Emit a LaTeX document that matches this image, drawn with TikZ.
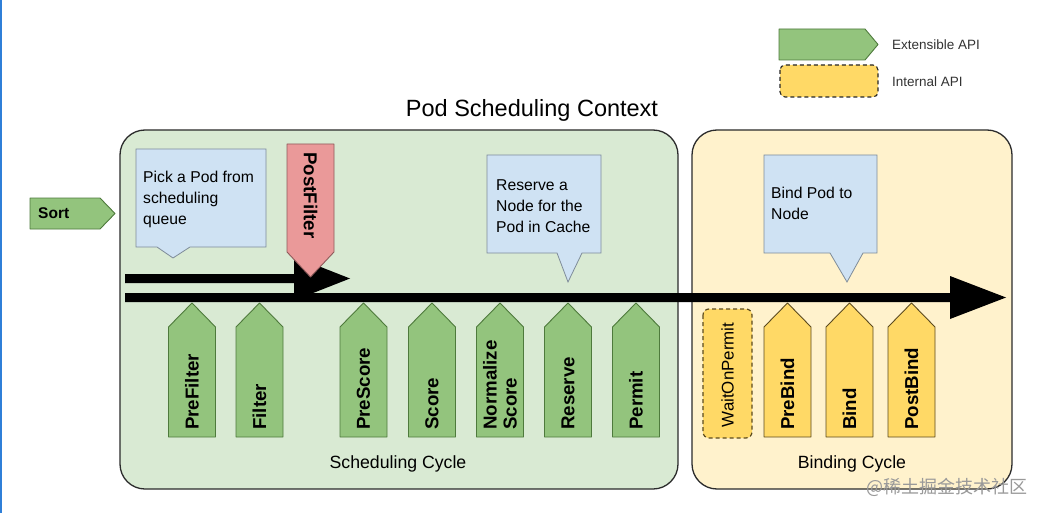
\documentclass[tikz,border=0pt]{standalone}
\usepackage{fontspec}
\setmainfont{Liberation Sans}
\newfontfamily\cjkwm{Noto Sans CJK SC}
\definecolor{cgreenbg}{HTML}{D9EAD3}
\definecolor{cyellowbg}{HTML}{FFF2CC}
\definecolor{cplugG}{HTML}{93C47D}
\definecolor{cplugGline}{HTML}{4E7A3C}
\definecolor{cplugY}{HTML}{FFD966}
\definecolor{cplugYline}{HTML}{5C4B1E}
\definecolor{ccall}{HTML}{CFE2F3}
\definecolor{ccallline}{HTML}{7F8C99}
\definecolor{cpink}{HTML}{EA9999}
\definecolor{cpinkline}{HTML}{8E5B5B}
\definecolor{cboxline}{HTML}{2B2B2B}
\definecolor{cedge}{HTML}{2F7FD8}
\newcommand\mkplug[4]{% name, center x, style, text
  \path[#3] ({#2-23.5},437) -- ({#2-23.5},327) -- (#2,303) -- ({#2+23.5},327) -- ({#2+23.5},437) -- cycle;
  \node[ptext] (#1) at (#2,430) {#4};}
\newcommand\mkcallout[9]{% name, x1,y1,x2,y2, pl, pr, tipx, tipy
  \path[callout] (#2,#3) -- (#4,#3) -- (#4,#5) -- (#7,#5) -- (#8,#9) -- (#6,#5) -- (#2,#5) -- cycle;}
\begin{document}
\begin{tikzpicture}[x=1pt,y=-1pt,
  bigbox/.style={draw=cboxline,line width=1.3pt,rounded corners=25pt},
  plugG/.style={fill=cplugG,draw=cplugGline,line width=0.9pt,line join=round},
  plugY/.style={fill=cplugY,draw=cplugYline,line width=0.9pt,line join=round},
  ptext/.style={font=\fontsize{18.7}{20}\selectfont\bfseries,rotate=90,anchor=west,inner sep=0pt,align=left},
  callout/.style={fill=ccall,draw=ccallline,line width=0.8pt,line join=miter},
  ctext/.style={font=\fontsize{15.7}{20.8}\selectfont,anchor=north west,inner sep=0pt,align=left},
  lbl/.style={font=\fontsize{17.7}{20}\selectfont,anchor=base,inner sep=0pt},
  legtext/.style={font=\fontsize{13.5}{16}\selectfont,anchor=west,inner sep=0pt,text=black!80},
  timeline/.style={fill=black}]
\useasboundingbox (0,0) rectangle (1043,513);
\fill[white] (0,0) rectangle (1043,513);
\fill[cedge] (0,0) rectangle (2,513);

% context boxes
\draw[bigbox,fill=cgreenbg] (120,130) rectangle (678,489);
\draw[bigbox,fill=cyellowbg] (692,130) rectangle (1012,489);
\node[font=\fontsize{23.5}{26}\selectfont,anchor=base,inner sep=0pt] (title) at (532,116.5) {Pod Scheduling Context};

% callouts
\mkcallout{c1}{136}{149}{266}{247}{157}{190}{173}{258}
\node[ctext] (c1t) at (143,171) {Pick a Pod from\\scheduling\\queue};
\mkcallout{c2}{487}{155}{601}{253}{557}{582}{568}{282}
\node[ctext] (c2t) at (496,179.4) {Reserve a\\Node for the\\Pod in Cache};
\mkcallout{c3}{764}{155}{877}{253}{830}{863}{847}{282}
\node[ctext] (c3t) at (771,187.3) {Bind Pod to\\Node};

% timelines
\path[timeline] (125,274) -- (294,274) -- (294,256.5) -- (350,278.5) -- (294,300.5) -- (294,283) -- (125,283) -- cycle;
\path[timeline] (125,293) -- (950,293) -- (950,276) -- (1006,297.5) -- (950,319) -- (950,302) -- (125,302) -- cycle;

% PostFilter
\path[fill=cpink,draw=cpinkline,line width=0.9pt,line join=round] (287,144) -- (334,144) -- (334,252) -- (310.5,277) -- (287,252) -- cycle;
\node[font=\fontsize{18.7}{20}\selectfont\bfseries,rotate=-90,anchor=west,inner sep=0pt] (postfilter) at (310.5,152) {PostFilter};

% Sort
\path[plugG] (30,198) -- (100,198) -- (115,213.5) -- (100,229) -- (30,229) -- cycle;
\node[font=\fontsize{15.5}{18}\selectfont\bfseries,anchor=west,inner sep=0pt] (sort) at (38,213.5) {Sort};

% scheduling plugins
\mkplug{prefilter}{192}{plugG}{PreFilter}
\mkplug{filter}{259.5}{plugG}{Filter}
\mkplug{prescore}{363.5}{plugG}{PreScore}
\mkplug{score}{432}{plugG}{Score}
\mkplug{normalize}{500}{plugG}{Normalize\\Score}
\mkplug{reserve}{568}{plugG}{Reserve}
\mkplug{permit}{636}{plugG}{Permit}

% binding plugins
\draw[fill=cplugY,draw=cplugYline,line width=1.2pt,dashed,dash pattern=on 4pt off 3pt,rounded corners=6pt] (703,309) rectangle (752,438);
\node[font=\fontsize{16.9}{20}\selectfont,rotate=90,inner sep=0pt] (wait) at (727.5,375) {WaitOnPermit};
\mkplug{prebind}{787.5}{plugY}{PreBind}
\mkplug{bind}{849.5}{plugY}{Bind}
\mkplug{postbind}{911.5}{plugY}{PostBind}

\node[lbl] (schedcycle) at (398,468.3) {Scheduling Cycle};
\node[lbl] (bindcycle) at (852,468.3) {Binding Cycle};

% legend
\path[plugG] (779,29) -- (865,29) -- (878,44.5) -- (865,60) -- (779,60) -- cycle;
\node[legtext] (legext) at (892,45) {Extensible API};
\draw[fill=cplugY,draw=black!85,line width=1.1pt,dash pattern=on 4pt off 3pt,rounded corners=5pt] (780,65) rectangle (878,97);
\node[legtext] (legint) at (892,82) {Internal API};

% watermark
\node[font=\cjkwm\fontsize{18}{20}\selectfont,text=black!40,anchor=west,inner sep=0pt] (wm) at (866,487) {@稀土掘金技术社区};
\end{tikzpicture}
\end{document}
